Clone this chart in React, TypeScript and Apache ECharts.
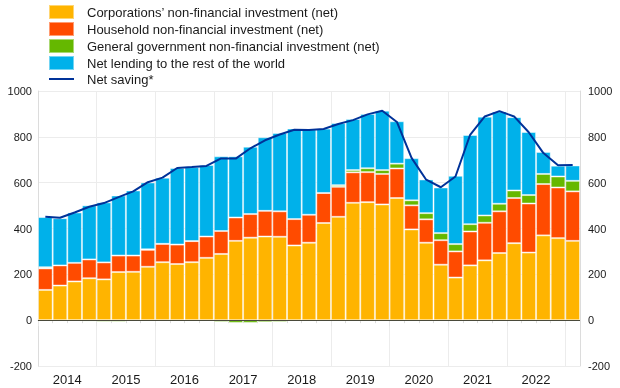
import React, { useEffect, useRef } from "react";
import * as echarts from "echarts";

const quarters = [
  "2014Q1","2014Q2","2014Q3","2014Q4",
  "2015Q1","2015Q2","2015Q3","2015Q4",
  "2016Q1","2016Q2","2016Q3","2016Q4",
  "2017Q1","2017Q2","2017Q3","2017Q4",
  "2018Q1","2018Q2","2018Q3","2018Q4",
  "2019Q1","2019Q2","2019Q3","2019Q4",
  "2020Q1","2020Q2","2020Q3","2020Q4",
  "2021Q1","2021Q2","2021Q3","2021Q4",
  "2022Q1","2022Q2","2022Q3","2022Q4",
  "2023Q1",
];

const yearLabels = ["2014", "2015", "2016", "2017", "2018", "2019", "2020", "2021", "2022"];

const corporations = [
  132, 151, 169, 183, 178, 210, 211, 233, 253, 245, 253, 272,
  289, 346, 360, 365, 364, 326, 338, 424, 451, 512, 515, 505,
  533, 396, 338, 242, 186, 239, 261, 293, 336, 295, 370, 358, 346,
];
const households = [
  94, 88, 81, 82, 74, 72, 71, 74, 80, 85, 92, 93,
  100, 102, 103, 112, 111, 115, 122, 131, 131, 133, 131, 133,
  129, 105, 102, 107, 114, 148, 164, 182, 197, 214, 224, 221, 216,
];
const government = [
  5, 0, -4, -6, -7, -7, -4, 2, 0, 0, 0, -5,
  -8, -12, -12, -9, -8, -3, -3, 0, 7, 10, 17, 17,
  21, 22, 27, 31, 32, 32, 32, 33, 33, 37, 44, 48, 46,
];
const netLending = [
  219, 206, 220, 236, 262, 262, 284, 292, 289, 334, 323, 312,
  326, 267, 294, 321, 342, 395, 373, 281, 271, 223, 237, 259,
  185, 184, 147, 199, 298, 389, 431, 403, 320, 275, 96, 47, 67,
];
const netSaving = [
  451, 447, 470, 495, 511, 537, 562, 602, 622, 664, 668, 673,
  706, 705, 750, 785, 810, 831, 830, 834, 856, 873, 898, 914,
  865, 708, 613, 580, 627, 809, 889, 912, 889, 820, 729, 676, 677,
];

const yTicks = { min: -200, max: 1000, interval: 200 };

const names = {
  corp: "Corporations\u2019 non-financial investment (net)",
  hh: "Household non-financial investment (net)",
  gov: "General government non-financial investment (net)",
  lend: "Net lending to the rest of the world",
  save: "Net saving*",
};

const COLORS = {
  corp: "#FFB400",
  hh: "#FF4B00",
  gov: "#65B800",
  lend: "#00B1EA",
  save: "#003299",
};

// half-quarter points used only to place the year labels at the middle of each year
const halfSteps: string[] = [];
for (let j = 0; j <= quarters.length * 2; j++) {
  halfSteps.push(j % 8 === 4 && (j - 4) / 8 < yearLabels.length ? yearLabels[(j - 4) / 8] : "");
}

const lineIcon = "path://M0,0 L0.01,0 L0,0.01 Z M0,6 L25,6 L25,8 L0,8 Z M0,14 L0.01,14 L0,13.99 Z";

export default function App() {
  const ref = useRef<HTMLDivElement>(null);

  useEffect(() => {
    if (!ref.current) return;
    const chart = echarts.init(ref.current, null, { renderer: "svg" });
    const barItem = (color: string) => ({
      color,
      borderColor: "rgba(255,255,255,0.45)",
      borderWidth: 1,
    });
    const font = "'Liberation Sans', Arial, sans-serif";
    chart.setOption({
      animation: false,
      textStyle: { fontFamily: font },
      legend: {
        orient: "vertical",
        left: 48,
        top: 4,
        padding: 0,
        itemWidth: 25,
        itemHeight: 14,
        itemGap: 1,
        textStyle: {
          fontSize: 13,
          color: "#1a1a1a",
          fontFamily: font,
          padding: [0, 0, 0, 8],
        },
        data: [
          { name: names.corp, icon: "rect" },
          { name: names.hh, icon: "rect" },
          { name: names.gov, icon: "rect" },
          { name: names.lend, icon: "rect" },
          { name: names.save, icon: lineIcon },
        ],
      },
      grid: { left: 38, right: 40, top: 91, bottom: 22, containLabel: false },
      xAxis: [
        {
          type: "category",
          data: quarters,
          boundaryGap: true,
          axisLine: { show: true, lineStyle: { color: "#dcdcdc" } },
          axisTick: { show: true, interval: 0, length: 3, lineStyle: { color: "#dcdcdc" } },
          splitLine: {
            show: true,
            interval: (i: number) => i % 4 === 0,
            lineStyle: { color: "#ececec" },
          },
          axisLabel: { show: false },
        },
        {
          type: "category",
          data: halfSteps,
          position: "bottom",
          boundaryGap: false,
          axisLine: { show: false },
          axisTick: {
            show: true,
            interval: (i: number) => i % 8 === 0,
            length: 6,
            lineStyle: { color: "#e6e6e6" },
          },
          axisLabel: {
            interval: (i: number) => i % 8 === 4,
            fontSize: 13,
            color: "#1a1a1a",
            margin: 7,
            fontFamily: font,
          },
          splitLine: { show: false },
        },
      ],
      yAxis: [
        {
          type: "value",
          ...yTicks,
          position: "left",
          axisLine: { show: true, lineStyle: { color: "#dcdcdc" } },
          axisTick: { show: false },
          splitLine: { show: true, lineStyle: { color: "#ececec" } },
          axisLabel: { fontSize: 11, color: "#1a1a1a", margin: 6, fontFamily: font, formatter: (v: number) => String(v) },
        },
        {
          type: "value",
          ...yTicks,
          position: "right",
          axisLine: { show: true, lineStyle: { color: "#dcdcdc" } },
          axisTick: { show: false },
          splitLine: { show: false },
          axisLabel: { fontSize: 11, color: "#1a1a1a", margin: 8, fontFamily: font, formatter: (v: number) => String(v) },
        },
      ],
      series: [
        {
          name: names.corp,
          type: "bar",
          stack: "total",
          barCategoryGap: "0%",
          data: corporations,
          itemStyle: barItem(COLORS.corp),
        },
        {
          name: names.hh,
          type: "bar",
          stack: "total",
          barCategoryGap: "0%",
          data: households,
          itemStyle: barItem(COLORS.hh),
        },
        {
          name: names.gov,
          type: "bar",
          stack: "total",
          barCategoryGap: "0%",
          data: government,
          itemStyle: barItem(COLORS.gov),
        },
        {
          name: names.lend,
          type: "bar",
          stack: "total",
          barCategoryGap: "0%",
          data: netLending,
          itemStyle: barItem(COLORS.lend),
        },
        {
          name: names.save,
          type: "line",
          data: netSaving,
          symbol: "none",
          color: COLORS.save,
          lineStyle: { color: COLORS.save, width: 2 },
          z: 5,
          markLine: {
            silent: true,
            symbol: "none",
            label: { show: false },
            lineStyle: { color: "#4a4a3a", width: 1, type: "solid" },
            data: [{ yAxis: 0 }],
          },
        },
      ],
    });
    return () => chart.dispose();
  }, []);

  return (
    <div
      ref={ref}
      style={{ position: "fixed", left: 0, top: 0, width: 620, height: 388 }}
    />
  );
}
